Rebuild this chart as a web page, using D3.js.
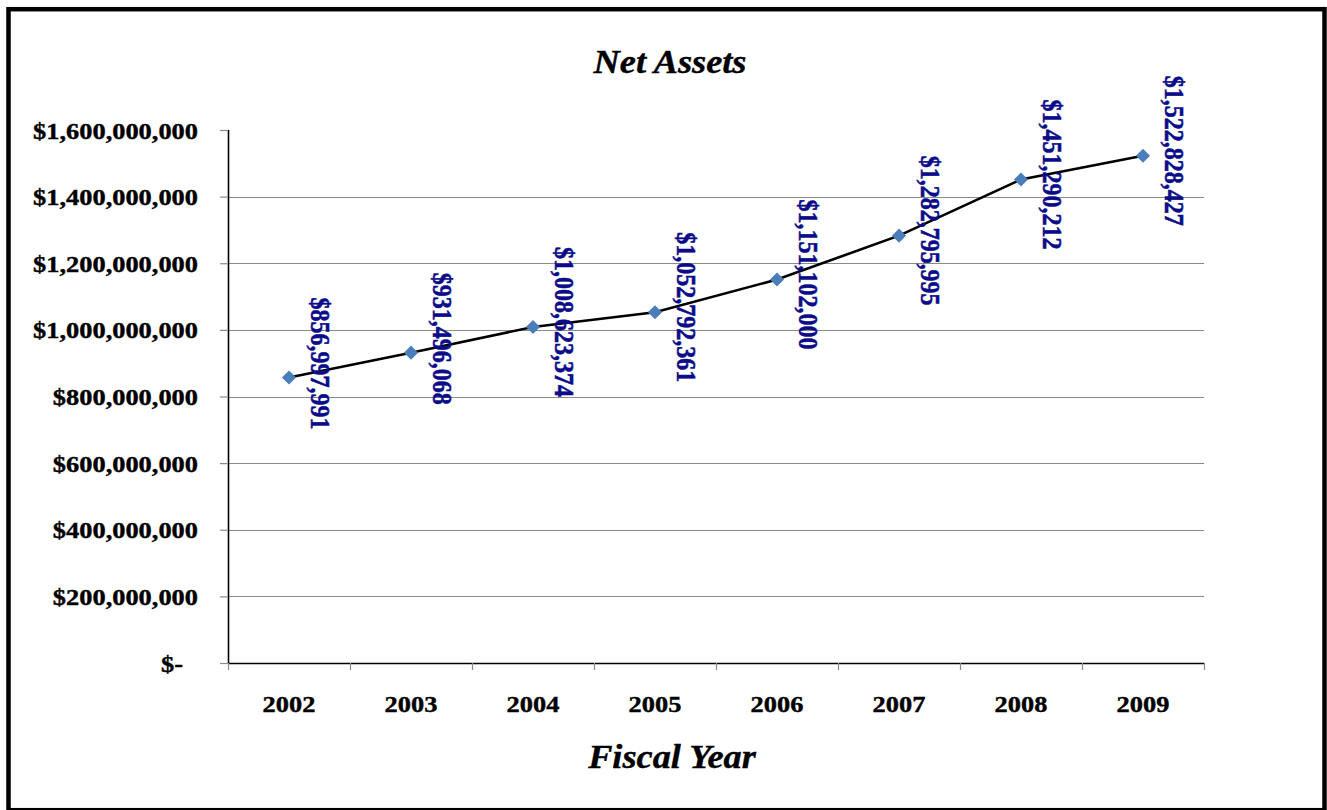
<!DOCTYPE html>
<html>
<head>
<meta charset="utf-8">
<script src="https://cdn.jsdelivr.net/npm/d3@7"></script>
<style>
  html, body { margin: 0; padding: 0; background: #fff; }
  svg { display: block; }
  text { font-family: "Liberation Serif", "Times New Roman", serif; }
</style>
</head>
<body>
<svg id="chart" width="1327" height="810"></svg>
<script>
// Net assets by fiscal year
const years = ["2002", "2003", "2004", "2005", "2006", "2007", "2008", "2009"];
const netAssets = [856997991, 931496068, 1008623374, 1052792361, 1151102000, 1282795995, 1451290212, 1522828427];
const yTicks = [0, 200000000, 400000000, 600000000, 800000000, 1000000000, 1200000000, 1400000000, 1600000000];

const svg = d3.select("#chart");
const plot = { left: 228, right: 1204, top: 130, bottom: 663 };
const stretch = 1.1; // glyphs are drawn slightly wide

// outer frame
svg.append("rect")
  .attr("x", 8.5).attr("y", 9.2)
  .attr("width", 1316).attr("height", 801)
  .attr("fill", "#fff")
  .attr("stroke", "#000")
  .attr("stroke-width", 4.5);

const x = d3.scaleBand().domain(years).range([plot.left, plot.right]).paddingInner(0).paddingOuter(0);
const y = d3.scaleLinear().domain([0, 1600000000]).range([plot.bottom, plot.top]);

const money = d3.format("$,");
const tickFmt = v => v === 0 ? "$-" : money(v);

// horizontal gridlines (none at the top edge)
svg.append("g")
  .selectAll("line")
  .data(yTicks.filter(v => v > 0 && v < 1600000000))
  .join("line")
  .attr("x1", plot.left).attr("x2", plot.right)
  .attr("y1", d => Math.round(y(d)) + 0.5).attr("y2", d => Math.round(y(d)) + 0.5)
  .attr("stroke", "#8a8a8a")
  .attr("stroke-width", 1.2);

// y axis
const yAxis = svg.append("g")
  .attr("transform", `translate(${plot.left},0)`)
  .call(d3.axisLeft(y).tickValues(yTicks).tickFormat(tickFmt).tickSize(8).tickPadding(0));
yAxis.select(".domain").attr("stroke", "#000").attr("stroke-width", 1.6).attr("d", `M0.5,${plot.top}V${plot.bottom}`);
yAxis.selectAll(".tick line").attr("stroke", "#8a8a8a").attr("stroke-width", 1.2);
yAxis.selectAll(".tick text")
  .attr("x", null).attr("dy", null)
  .attr("font-size", 24).attr("font-weight", "bold").attr("fill", "#000")
  .attr("stroke", "#000").attr("stroke-width", 0.4)
  .attr("text-anchor", "end")
  .attr("dominant-baseline", "central")
  .attr("transform", d => `translate(${d === 0 ? -45 : -30},0) scale(${stretch},1)`);

// x axis
const xAxis = svg.append("g")
  .attr("transform", `translate(0,${plot.bottom})`)
  .call(d3.axisBottom(x).tickSize(0).tickPadding(0));
xAxis.select(".domain").attr("stroke", "#000").attr("stroke-width", 1.6).attr("d", `M${plot.left},0.5H${plot.right}`);
xAxis.selectAll(".tick text")
  .attr("y", null).attr("dy", null)
  .attr("font-size", 24).attr("font-weight", "bold").attr("fill", "#000")
  .attr("stroke", "#000").attr("stroke-width", 0.4)
  .attr("text-anchor", "middle")
  .attr("transform", `translate(0,49) scale(${stretch},1)`);
// category boundary ticks
const bounds = years.map(d => x(d)).concat([x(years[years.length - 1]) + x.bandwidth()]);
svg.append("g").selectAll("line")
  .data(bounds)
  .join("line")
  .attr("x1", d => d + 0.5).attr("x2", d => d + 0.5)
  .attr("y1", plot.bottom).attr("y2", plot.bottom + 7)
  .attr("stroke", "#8a8a8a").attr("stroke-width", 1.2);

const cx = d => x(d) + x.bandwidth() / 2;
const pts = years.map((yr, i) => ({ yr, v: netAssets[i] }));

// series line
svg.append("path")
  .datum(pts)
  .attr("fill", "none")
  .attr("stroke", "#000")
  .attr("stroke-width", 2.6)
  .attr("d", d3.line().x(d => cx(d.yr)).y(d => y(d.v)));

// diamond markers
svg.append("g").selectAll("path")
  .data(pts)
  .join("path")
  .attr("d", d3.symbol(d3.symbolSquare, 100))
  .attr("transform", d => `translate(${cx(d.yr)},${y(d.v)}) rotate(45)`)
  .attr("fill", "#4a7ebb");

// rotated value labels
svg.append("g").selectAll("text")
  .data(pts)
  .join("text")
  .attr("transform", d => `translate(${cx(d.yr) + 31},${y(d.v) - 80}) scale(${stretch},1) rotate(90)`)
  .attr("text-anchor", "start")
  .attr("dominant-baseline", "central")
  .attr("font-size", 24)
  .attr("font-weight", "bold")
  .attr("fill", "#0c0c8a")
  .attr("stroke", "#0c0c8a").attr("stroke-width", 0.5)
  .text(d => money(d.v));

// title
svg.append("text")
  .attr("transform", `translate(670,73) scale(${stretch},1)`)
  .attr("text-anchor", "middle")
  .attr("font-size", 33).attr("font-weight", "bold").attr("font-style", "italic")
  .attr("fill", "#000").attr("stroke", "#000").attr("stroke-width", 0.4)
  .text("Net Assets");

// x axis title
svg.append("text")
  .attr("transform", `translate(672,768) scale(${stretch},1)`)
  .attr("text-anchor", "middle")
  .attr("font-size", 33).attr("font-weight", "bold").attr("font-style", "italic")
  .attr("fill", "#000").attr("stroke", "#000").attr("stroke-width", 0.4)
  .text("Fiscal Year");
</script>
</body>
</html>
